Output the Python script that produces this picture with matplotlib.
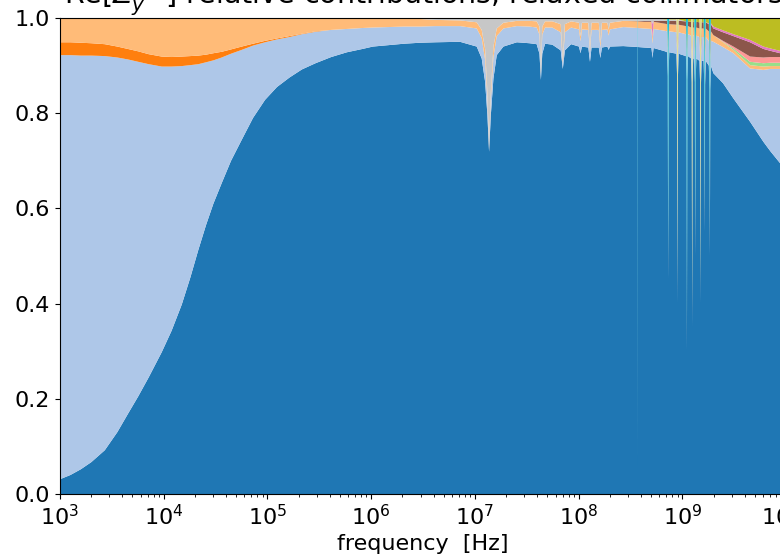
import matplotlib.pyplot as plt
import numpy as np

plt.rcParams['font.size'] = 16

# log10(frequency / Hz) of each sample
log_freq = [
    3.0, 3.101, 3.201, 3.302, 3.432, 3.553, 3.654, 3.754, 3.855, 3.981,
    4.076, 4.174, 4.257, 4.334, 4.408, 4.479, 4.559, 4.649, 4.752, 4.861,
    4.977, 5.092, 5.213, 5.333, 5.464, 5.615, 5.766, 5.917, 6.017, 6.168,
    6.319, 6.470, 6.621, 6.857, 7.018, 7.066, 7.099, 7.121, 7.137, 7.154,
    7.179, 7.211, 7.275, 7.405, 7.526, 7.596, 7.623, 7.637, 7.650, 7.677,
    7.747, 7.828, 7.848, 7.868, 7.928, 8.004, 8.019, 8.032, 8.094, 8.110,
    8.125, 8.195, 8.210, 8.225, 8.278, 8.290, 8.302, 8.431, 8.571, 8.572,
    8.573, 8.632, 8.703, 8.713, 8.723, 8.834, 8.854, 8.860, 8.864, 8.868,
    8.874, 8.944, 8.950, 8.954, 8.958, 8.964, 9.035, 9.041, 9.045, 9.049,
    9.055, 9.085, 9.091, 9.095, 9.099, 9.105, 9.115, 9.121, 9.125, 9.129,
    9.135, 9.166, 9.172, 9.176, 9.180, 9.186, 9.206, 9.212, 9.216, 9.220,
    9.226, 9.256, 9.262, 9.266, 9.270, 9.276, 9.300, 9.393, 9.493, 9.654,
    9.782, 9.85, 9.943, 10.0,
]

# relative contribution of each element (every column adds up to 1)
resistive_wall = [
    .031, .040, .052, .067, .092, .130, .168, .205, .245, .298,
    .343, .398, .455, .513, .565, .610, .653, .700, .744, .790,
    .828, .855, .875, .892, .905, .918, .928, .935, .940, .943,
    .946, .948, .949, .950, .940, .915, .866, .796, .719, .796,
    .873, .922, .940, .949, .947, .945, .925, .870, .925, .946,
    .944, .932, .893, .932, .945, .940, .926, .940, .938, .908,
    .938, .938, .916, .938, .940, .933, .940, .941, .939, .050,
    .939, .938, .937, .916, .937, .930, .928, .878, .450, .878,
    .928, .925, .875, .400, .875, .925, .920, .870, .300, .870,
    .920, .915, .865, .350, .865, .915, .915, .865, .500, .865,
    .915, .910, .860, .400, .860, .910, .910, .860, .550, .860,
    .910, .900, .850, .500, .850, .900, .884, .863, .831, .782,
    .740, .720, .695, .670,
]
resistive_wall_2 = [
    .891, .882, .869, .854, .828, .787, .745, .703, .658, .600,
    .555, .501, .446, .390, .342, .301, .264, .225, .189, .152,
    .121, .100, .085, .074, .066, .057, .049, .044, .040, .038,
    .036, .034, .034, .033, .038, .043, .046, .034, .004, .034,
    .045, .040, .038, .034, .035, .035, .040, .012, .040, .034,
    .036, .038, .012, .038, .035, .036, .025, .036, .037, .020,
    .037, .037, .022, .037, .036, .030, .036, .040, .040, .005,
    .040, .040, .040, .030, .040, .043, .044, .044, .020, .044,
    .044, .045, .045, .020, .045, .045, .046, .046, .020, .046,
    .046, .048, .048, .020, .048, .048, .048, .048, .020, .048,
    .048, .050, .050, .020, .050, .050, .050, .050, .020, .050,
    .050, .052, .052, .020, .052, .052, .066, .076, .095, .112,
    .151, .173, .198, .222,
]
kickers = [
    .027, .027, .027, .026, .025, .023, .022, .022, .021, .021,
    .020, .020, .019, .018, .016, .015, .012, .009, .007, .004,
    .003, .002, .002, .001, .001, 0, 0, 0, 0, 0,
    0, 0, 0, 0, 0, 0, 0, 0, 0, 0,
    0, 0, 0, 0, 0, 0, 0, 0, 0, 0,
    0, 0, 0, 0, 0, 0, 0, 0, 0, 0,
    0, 0, 0, 0, 0, 0, 0, 0, 0, 0,
    0, 0, 0, 0, 0, 0, 0, 0, 0, 0,
    0, 0, 0, 0, 0, 0, 0, 0, 0, 0,
    0, 0, 0, 0, 0, 0, 0, 0, 0, 0,
    0, 0, 0, 0, 0, 0, 0, 0, 0, 0,
    0, 0, 0, 0, 0, 0, 0, 0, 0, 0,
    0, 0, 0, 0,
]
kickers_2 = [
    .051, .051, .052, .053, .055, .060, .065, .070, .076, .081,
    .082, .081, .080, .079, .077, .074, .071, .066, .060, .054,
    .048, .043, .038, .033, .028, .025, .023, .021, .020, .019,
    .018, .016, .013, .012, .013, .017, .023, .015, .003, .015,
    .022, .016, .012, .011, .012, .013, .017, .006, .017, .013,
    .013, .017, .006, .017, .013, .014, .010, .014, .015, .008,
    .015, .015, .009, .015, .014, .012, .014, .013, .014, .003,
    .014, .014, .015, .012, .015, .015, .015, .015, .008, .015,
    .015, .016, .016, .008, .016, .016, .017, .017, .008, .017,
    .017, .017, .017, .008, .017, .017, .017, .017, .008, .017,
    .017, .018, .018, .008, .018, .018, .018, .018, .008, .018,
    .018, .020, .020, .008, .020, .020, .014, .010, .007, .007,
    .007, .006, .006, .006,
]
bellows = [
    0, 0, 0, 0, 0, 0, 0, 0, 0, 0,
    0, 0, 0, 0, 0, 0, 0, 0, 0, 0,
    0, 0, 0, 0, 0, 0, 0, 0, 0, 0,
    0, 0, 0, 0, 0, 0, 0, 0, 0, 0,
    0, 0, 0, 0, 0, 0, 0, 0, 0, 0,
    0, 0, 0, 0, 0, 0, 0, 0, 0, 0,
    0, 0, 0, 0, 0, 0, 0, 0, 0, 0,
    0, 0, 0, 0, 0, 0, 0, 0, 0, 0,
    0, 0, 0, 0, 0, 0, 0, 0, 0, 0,
    0, 0, 0, 0, 0, 0, 0, 0, 0, 0,
    0, 0, 0, 0, 0, 0, 0, 0, 0, 0,
    0, 0, 0, 0, 0, 0, 0, .001, .003, .007,
    .007, .007, .007, .007,
]
flanges = [
    0, 0, 0, 0, 0, 0, 0, 0, 0, 0,
    0, 0, 0, 0, 0, 0, 0, 0, 0, 0,
    0, 0, 0, 0, 0, 0, 0, 0, 0, 0,
    0, 0, 0, 0, 0, 0, 0, 0, 0, 0,
    0, 0, 0, 0, 0, 0, 0, 0, 0, 0,
    0, 0, 0, 0, 0, 0, 0, 0, 0, 0,
    0, 0, 0, 0, 0, 0, 0, 0, 0, 0,
    0, 0, 0, 0, 0, 0, 0, 0, 0, 0,
    0, 0, 0, 0, 0, 0, 0, 0, 0, 0,
    0, 0, 0, 0, 0, 0, 0, 0, 0, 0,
    0, 0, 0, 0, 0, 0, 0, 0, 0, 0,
    0, 0, 0, 0, 0, 0, 0, .002, .004, .011,
    .012, .012, .012, .012,
]
tapers = [
    0, 0, 0, 0, 0, 0, 0, 0, 0, 0,
    0, 0, 0, 0, 0, 0, 0, 0, 0, 0,
    0, 0, 0, 0, 0, 0, 0, 0, 0, 0,
    0, 0, 0, 0, 0, 0, 0, 0, 0, 0,
    0, 0, 0, 0, 0, 0, 0, 0, 0, 0,
    0, 0, 0, 0, 0, 0, 0, 0, 0, 0,
    0, 0, 0, 0, 0, 0, 0, 0, .001, 0,
    .001, .002, .002, 0, .002, .006, .007, .007, .004, .007,
    .007, .008, .008, .004, .008, .008, .010, .010, .005, .010,
    .010, .012, .012, .005, .012, .012, .012, .012, .005, .012,
    .012, .013, .013, .005, .013, .013, .013, .013, .005, .013,
    .013, .015, .015, .006, .015, .015, .014, .018, .022, .030,
    .018, .013, .008, .007,
]
bpms = [
    0, 0, 0, 0, 0, 0, 0, 0, 0, 0,
    0, 0, 0, 0, 0, 0, 0, 0, 0, 0,
    0, 0, 0, 0, 0, 0, 0, 0, 0, 0,
    0, 0, 0, 0, 0, 0, 0, 0, 0, 0,
    0, 0, 0, 0, 0, 0, 0, 0, 0, 0,
    0, 0, 0, 0, 0, 0, 0, 0, 0, 0,
    0, 0, 0, 0, 0, 0, 0, 0, 0, 0,
    0, 0, 0, .030, 0, 0, 0, 0, 0, 0,
    0, 0, 0, 0, 0, 0, 0, 0, 0, 0,
    0, 0, 0, 0, 0, 0, 0, 0, 0, 0,
    0, 0, 0, 0, 0, 0, 0, 0, 0, 0,
    0, .002, .002, 0, .002, .002, .004, .004, .004, .005,
    .005, .005, .005, .005,
]
septa = [
    0, 0, 0, 0, 0, 0, 0, 0, 0, 0,
    0, 0, 0, 0, 0, 0, 0, 0, 0, 0,
    0, 0, 0, 0, 0, 0, 0, 0, 0, 0,
    0, .002, .004, .005, .009, .025, .065, .155, .274, .155,
    .060, .022, .010, .006, .006, .007, .018, .112, .018, .007,
    .007, .013, .089, .013, .007, .010, .039, .010, .010, .064,
    .010, .010, .053, .010, .010, .025, .010, .006, .006, .002,
    .006, .006, .006, .012, .006, .003, .003, .003, 0, .003,
    .003, .003, .003, 0, .003, .003, 0, 0, 0, 0,
    0, 0, 0, 0, 0, 0, 0, 0, 0, 0,
    0, 0, 0, 0, 0, 0, 0, 0, 0, 0,
    0, 0, 0, 0, 0, 0, 0, 0, 0, 0,
    0, 0, 0, 0,
]
rf_cavities = [
    0, 0, 0, 0, 0, 0, 0, 0, 0, 0,
    0, 0, 0, 0, 0, 0, 0, 0, 0, 0,
    0, 0, 0, 0, 0, 0, 0, 0, 0, 0,
    0, 0, 0, 0, 0, 0, 0, 0, 0, 0,
    0, 0, 0, 0, 0, 0, 0, 0, 0, 0,
    0, 0, 0, 0, 0, 0, 0, 0, 0, 0,
    0, 0, 0, 0, 0, 0, 0, 0, 0, 0,
    0, 0, 0, 0, 0, .003, .003, .003, .002, .003,
    .003, .003, .003, .002, .003, .003, .007, .007, .003, .007,
    .007, .008, .008, .003, .008, .008, .008, .008, .003, .008,
    .008, .009, .009, .003, .009, .009, .009, .009, .003, .009,
    .009, .011, .011, .004, .011, .011, .018, .026, .034, .046,
    .060, .064, .069, .071,
]
hom_a = [
    0, 0, 0, 0, 0, 0, 0, 0, 0, 0,
    0, 0, 0, 0, 0, 0, 0, 0, 0, 0,
    0, 0, 0, 0, 0, 0, 0, 0, 0, 0,
    0, 0, 0, 0, 0, 0, 0, 0, 0, 0,
    0, 0, 0, 0, 0, 0, 0, 0, 0, 0,
    0, 0, 0, 0, 0, 0, 0, 0, 0, 0,
    0, 0, 0, 0, 0, 0, 0, 0, 0, 0,
    0, 0, 0, 0, 0, 0, 0, 0, 0, 0,
    0, 0, .050, .566, .050, 0, 0, 0, 0, 0,
    0, 0, .050, .614, .050, 0, 0, 0, 0, 0,
    0, 0, .050, .564, .050, 0, 0, 0, 0, 0,
    0, 0, 0, 0, 0, 0, 0, 0, 0, 0,
    0, 0, 0, 0,
]
hom_b = [
    0, 0, 0, 0, 0, 0, 0, 0, 0, 0,
    0, 0, 0, 0, 0, 0, 0, 0, 0, 0,
    0, 0, 0, 0, 0, 0, 0, 0, 0, 0,
    0, 0, 0, 0, 0, 0, 0, 0, 0, 0,
    0, 0, 0, 0, 0, 0, 0, 0, 0, 0,
    0, 0, 0, 0, 0, 0, 0, 0, 0, 0,
    0, 0, 0, 0, 0, 0, 0, 0, 0, .940,
    0, 0, 0, 0, 0, 0, 0, .050, .516, .050,
    0, 0, 0, 0, 0, 0, 0, .050, .664, .050,
    0, 0, 0, 0, 0, 0, 0, .050, .464, .050,
    0, 0, 0, 0, 0, 0, 0, .050, .414, .050,
    0, 0, .050, .462, .050, 0, 0, 0, 0, 0,
    0, 0, 0, 0,
]

layers = [resistive_wall, resistive_wall_2, kickers, kickers_2, bellows,
          flanges, tapers, bpms, septa, rf_cavities, hom_a, hom_b]
colors = ['#1f77b4', '#aec7e8', '#ff7f0e', '#ffbb78', '#98df8a',
          '#ff9896', '#8c564b', '#e377c2', '#c7c7c7', '#bcbd22',
          '#dbdb8d', '#17becf']
for layer in layers:
    assert len(layer) == len(log_freq), len(layer)

freq = 10.0 ** np.array(log_freq)

fig = plt.figure(figsize=(7.8, 5.56), dpi=100)
ax = fig.add_axes([60 / 780, 62 / 556, 726 / 780, 476 / 556])
ax.stackplot(freq, *layers, colors=colors)
ax.set_xscale('log')
ax.set_xlim(1e3, 1e10)
ax.set_ylim(0, 1)
ax.set_xlabel('frequency  [Hz]')
ax.set_title(r'Re[$Z_y^{\rm dip}$] relative contributions, relaxed collimators',
             fontsize=20.5, pad=5)

fig.savefig('out.png', dpi=100)
